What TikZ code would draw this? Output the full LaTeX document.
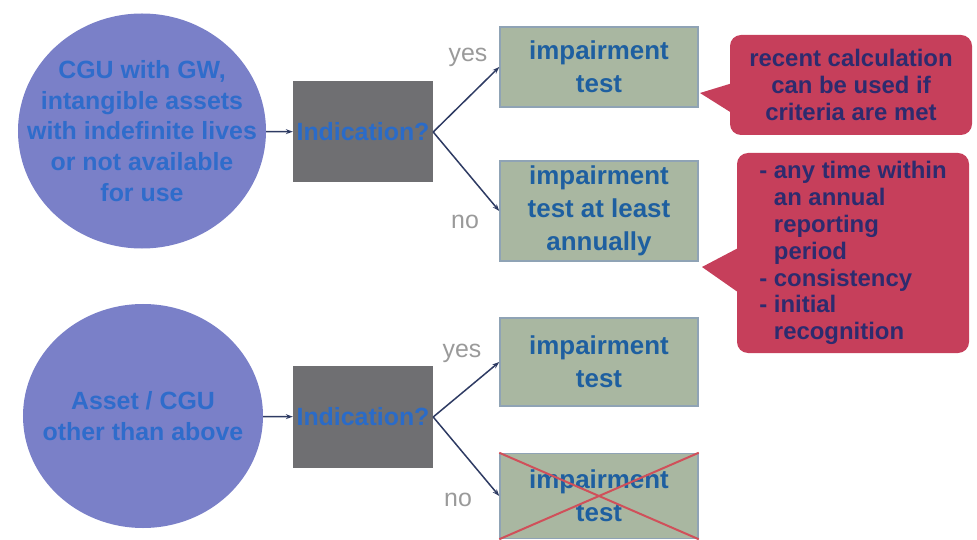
\documentclass[tikz,border=0pt]{standalone}
\usepackage{fontspec}
\setmainfont{Liberation Sans}
\usetikzlibrary{shapes.geometric,arrows.meta}

\definecolor{unitfill}{HTML}{7A80C8}
\definecolor{unittext}{HTML}{2F6CCB}
\definecolor{indfill}{HTML}{6F6F72}
\definecolor{indtext}{HTML}{2A6BC8}
\definecolor{testfill}{HTML}{A9B7A1}
\definecolor{testline}{HTML}{8FA3B5}
\definecolor{testtext}{HTML}{1E5FA0}
\definecolor{notefill}{HTML}{C63F5B}
\definecolor{notetext}{HTML}{2D2B6E}
\definecolor{ansgray}{HTML}{9A9A9A}
\definecolor{linkcol}{HTML}{2E3B63}
\definecolor{crosscol}{HTML}{D0505A}

\begin{document}
\begin{tikzpicture}[x = 1bp, y = -1bp,
	unit/.style = {ellipse, fill = unitfill, inner sep = 0pt,
		minimum width = 248bp, minimum height = 235bp},
	unitlabel/.style = {text = unittext, inner sep = 0pt, align = center, font = \bfseries\fontsize{25}{31}\selectfont},
	ind/.style = {rectangle, fill = indfill, text = indtext, inner sep = 0pt,
		minimum width = 140bp, minimum height = 101bp, font = \bfseries\fontsize{25}{30}\selectfont},
	test/.style = {rectangle, draw = testline, line width = 1.5bp, fill = testfill, text = testtext,
		inner sep = 0pt, align = center, minimum width = 198bp, font = \bfseries\fontsize{26}{33}\selectfont},
	note/.style = {rectangle, rounded corners = 11bp, fill = notefill, text = notetext,
		inner sep = 0pt, font = \bfseries\fontsize{24}{27}\selectfont},
	ans/.style = {text = ansgray, font = \fontsize{25}{30}\selectfont},
	link/.style = {draw = linkcol, line width = 1.5bp, -{Stealth[length = 7bp, width = 5bp]}},
	cross/.style = {draw = crosscol, line width = 2bp}]
	\useasboundingbox (0,0) rectangle (977,540);

	% upper row
	\draw
	(142,131) node[unit](C1){} node[unitlabel]{CGU with GW,\\intangible assets\\with indefinite lives\\or not available\\for use}
	(363,132) node[ind](I1){Indication?}
	(599,67) node[test, minimum height = 80bp](Y1){impairment\\test}
	(599,211) node[test, minimum height = 100bp](N1){impairment\\test at least\\annually}
	(468,57) node[ans](A1){yes}
	(465,222) node[ans](B1){no};

	% speech bubbles
	\fill[notefill] (700,93) -- (736,82) -- (762,132) -- cycle;
	\fill[notefill] (702,267) -- (742,246) -- (752,302) -- cycle;
	\node[note, minimum width = 242bp, minimum height = 100bp, align = center] (K1) at (851,85)
		{recent calculation\\can be used if\\criteria are met};
	\node[note, minimum width = 232bp, minimum height = 200bp, align = left] (K2) at (853,253)
		{- any time within\\\hphantom{- }an annual\\\hphantom{- }reporting\\\hphantom{- }period\\- consistency\\- initial\\\hphantom{- }recognition};

	\draw[link] (C1) -- (I1);
	\draw[link] (I1.east) -- (Y1.west);
	\draw[link] (I1.east) -- (N1.west);

	% lower row
	\draw
	(143,416) node[unit, minimum width = 240bp, minimum height = 224bp](C2){} node[unitlabel]{Asset / CGU\\other than above}
	(363,417) node[ind](I2){Indication?}
	(599,362) node[test, minimum height = 88bp](Y2){impairment\\test}
	(599,496) node[test, minimum height = 85bp](N2){impairment\\test}
	(462,353) node[ans](A2){yes}
	(458,500) node[ans](B2){no};

	\draw[link] (C2) -- (I2);
	\draw[link] (I2.east) -- (Y2.west);
	\draw[link] (I2.east) -- (N2.west);
	\draw[cross] (N2.north west) -- (N2.south east) (N2.south west) -- (N2.north east);
\end{tikzpicture}
\end{document}
